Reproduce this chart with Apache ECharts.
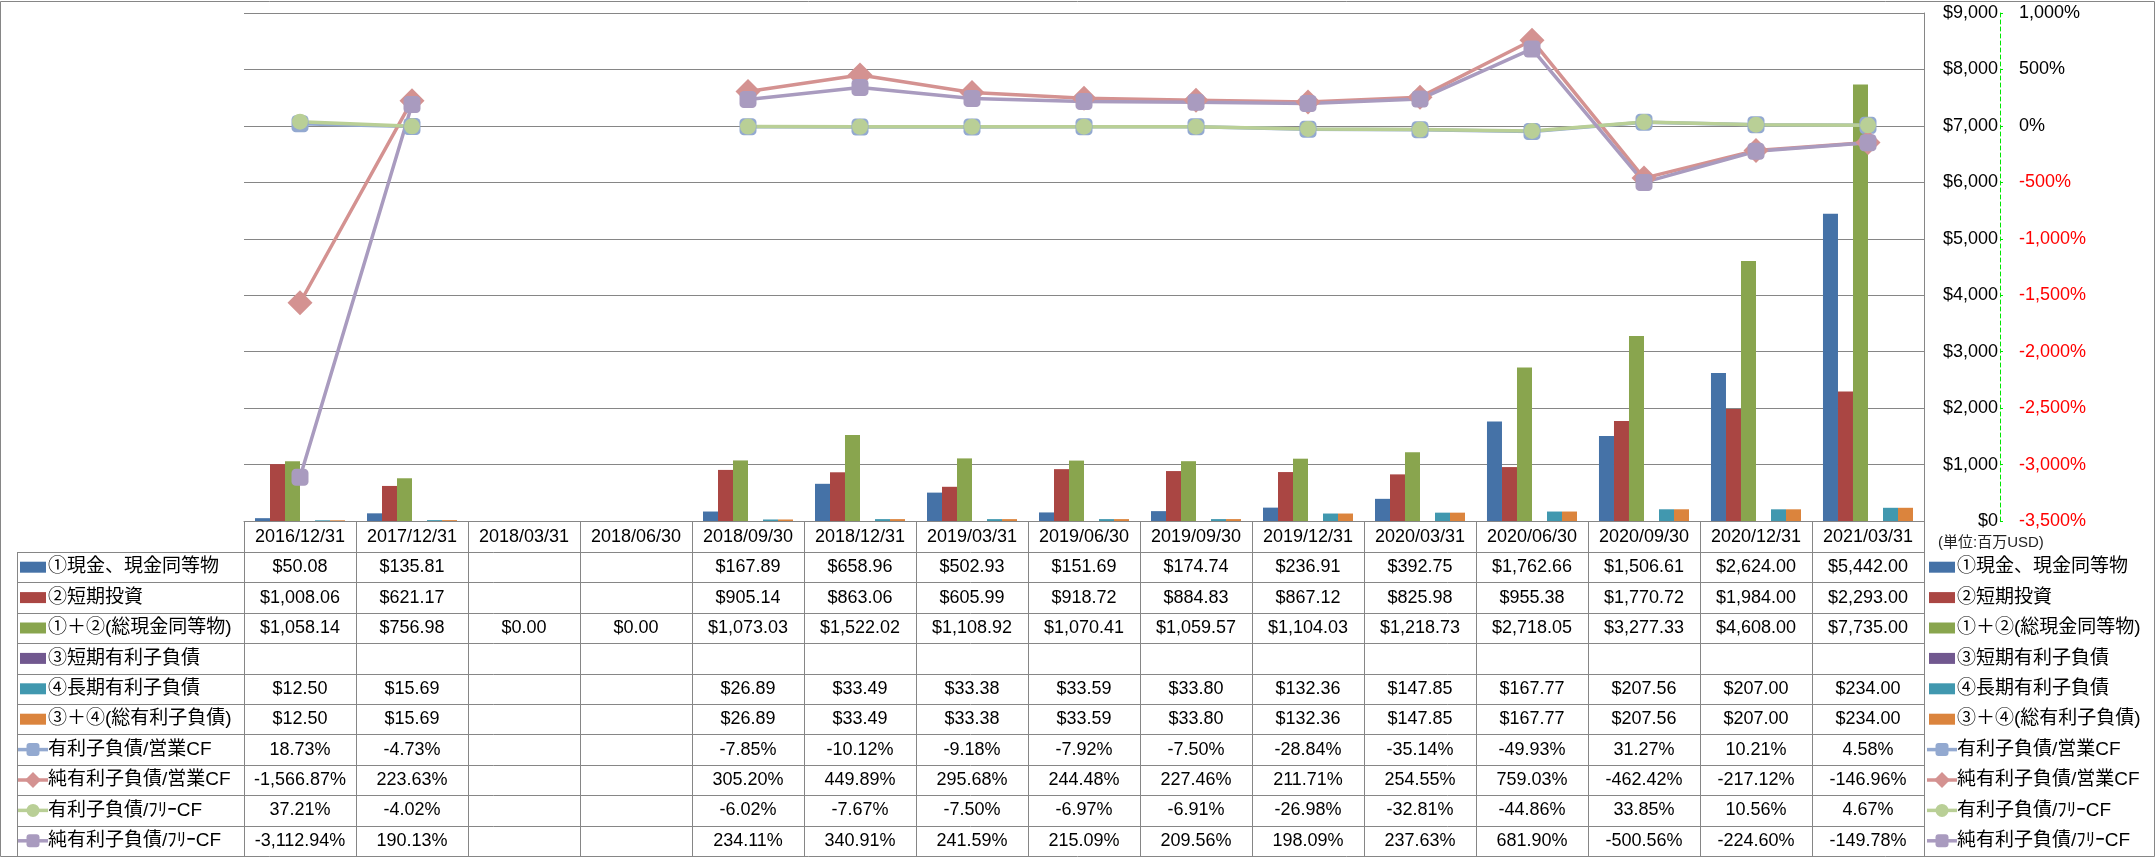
<!DOCTYPE html>
<html>
<head>
<meta charset="utf-8">
<script src="https://cdn.jsdelivr.net/npm/echarts@6/dist/echarts.min.js"></script>
<style>
html,body{margin:0;padding:0;background:#fff;}
#c{width:2156px;height:858px;}
</style>
</head>
<body>
<div id="c"></div>
<script>
// ---------------- DATA ----------------
const categories = ['2016/12/31','2017/12/31','2018/03/31','2018/06/30','2018/09/30','2018/12/31','2019/03/31','2019/06/30','2019/09/30','2019/12/31','2020/03/31','2020/06/30','2020/09/30','2020/12/31','2021/03/31'];

const cashValues      = [50.08, 135.81, null, null, 167.89, 658.96, 502.93, 151.69, 174.74, 236.91, 392.75, 1762.66, 1506.61, 2624.00, 5442.00];
const shortInvValues  = [1008.06, 621.17, null, null, 905.14, 863.06, 605.99, 918.72, 884.83, 867.12, 825.98, 955.38, 1770.72, 1984.00, 2293.00];
const totalCashValues = [1058.14, 756.98, 0, 0, 1073.03, 1522.02, 1108.92, 1070.41, 1059.57, 1104.03, 1218.73, 2718.05, 3277.33, 4608.00, 7735.00];
const shortDebtValues = [null, null, null, null, null, null, null, null, null, null, null, null, null, null, null];
const longDebtValues  = [12.50, 15.69, null, null, 26.89, 33.49, 33.38, 33.59, 33.80, 132.36, 147.85, 167.77, 207.56, 207.00, 234.00];
const totalDebtValues = [12.50, 15.69, null, null, 26.89, 33.49, 33.38, 33.59, 33.80, 132.36, 147.85, 167.77, 207.56, 207.00, 234.00];

const debtOpCfValues    = [18.73, -4.73, null, null, -7.85, -10.12, -9.18, -7.92, -7.50, -28.84, -35.14, -49.93, 31.27, 10.21, 4.58];
const netDebtOpCfValues = [-1566.87, 223.63, null, null, 305.20, 449.89, 295.68, 244.48, 227.46, 211.71, 254.55, 759.03, -462.42, -217.12, -146.96];
const debtFcfValues     = [37.21, -4.02, null, null, -6.02, -7.67, -7.50, -6.97, -6.91, -26.98, -32.81, -44.86, 33.85, 10.56, 4.67];
const netDebtFcfValues  = [-3112.94, 190.13, null, null, 234.11, 340.91, 241.59, 215.09, 209.56, 198.09, 237.63, 681.90, -500.56, -224.60, -149.78];

const seriesNames = ['①現金、現金同等物','②短期投資','①＋②(総現金同等物)','③短期有利子負債','④長期有利子負債','③＋④(総有利子負債)','有利子負債/営業CF','純有利子負債/営業CF','有利子負債/ﾌﾘｰCF','純有利子負債/ﾌﾘｰCF'];
const unitLabel = '(単位:百万USD)';

// ---------------- STYLE ----------------
const barColors  = ['#4572A7','#AA4643','#89A54E','#71588F','#4198AF','#DB843D'];
const lineColors = ['#93A9D0','#D49291','#B9CF96','#A99BBF'];
const lineSymbols = ['roundRect','diamond','circle','roundRect'];
const lineSymbolSizes = [17, 25, 16, 17];
const FONT = '"Liberation Sans","Noto Sans CJK JP",sans-serif';
const GRID = '#868686';

const barData = [cashValues, shortInvValues, totalCashValues, shortDebtValues, longDebtValues, totalDebtValues];
const lineData = [debtOpCfValues, netDebtOpCfValues, debtFcfValues, netDebtFcfValues];

const fmtMoney = v => v == null ? '' : '$' + v.toLocaleString('en-US', {minimumFractionDigits: 2, maximumFractionDigits: 2});
const fmtPct = v => v == null ? '' : v.toLocaleString('en-US', {minimumFractionDigits: 2, maximumFractionDigits: 2}) + '%';

const series = [];
barData.forEach((d, i) => {
  series.push({
    name: seriesNames[i], type: 'bar', yAxisIndex: 0, data: d,
    itemStyle: {color: barColors[i]},
    barGap: '0%', barCategoryGap: '19.6%', silent: true
  });
});
lineData.forEach((d, i) => {
  series.push({
    name: seriesNames[6 + i], type: 'line', yAxisIndex: 1, data: d,
    symbol: lineSymbols[i], symbolSize: lineSymbolSizes[i], showAllSymbol: true,
    lineStyle: {color: lineColors[i], width: 3.5},
    itemStyle: {color: lineColors[i], borderWidth: 0},
    connectNulls: false, silent: true, z: 3
  });
});

const AXIS_Y = 521;
const chart = echarts.init(document.getElementById('c'), null, {renderer: 'canvas', width: 2156, height: 858});

const option = {
  animation: false,
  backgroundColor: '#fff',
  grid: {left: 244, right: 2156 - 1924, top: 13, bottom: 858 - AXIS_Y, containLabel: false},
  xAxis: {
    type: 'category', data: categories,
    axisLine: {show: true, lineStyle: {color: GRID, width: 1}},
    axisTick: {show: false},
    axisLabel: {show: true, interval: 0, margin: 16, verticalAlign: 'middle', color: '#000', fontSize: 18, fontFamily: FONT}
  },
  yAxis: [
    {
      type: 'value', position: 'right', min: 0, max: 9000, interval: 1000,
      axisLine: {show: true, lineStyle: {color: GRID, width: 1}},
      axisTick: {show: false},
      splitLine: {show: true, lineStyle: {color: GRID, width: 1}},
      axisLabel: {
        margin: 74, align: 'right', color: '#000', fontSize: 18, fontFamily: FONT,
        formatter: v => '$' + v.toLocaleString('en-US')
      }
    },
    {
      type: 'value', position: 'right', offset: 76, min: -3500, max: 1000, interval: 500,
      axisLine: {show: true, lineStyle: {color: '#00E600', width: 1, type: [4, 3]}},
      axisTick: {show: true, length: 3, inside: false, lineStyle: {color: '#00E600'}},
      splitLine: {show: false},
      axisLabel: {
        margin: 19, align: 'left', fontSize: 18, fontFamily: FONT,
        color: v => Number(v) < 0 ? '#FF0000' : '#000000',
        formatter: v => v.toLocaleString('en-US') + '%'
      }
    }
  ],
  series: series
};
chart.setOption(option);

// ---------------- DATA TABLE + LEGEND (graphic) ----------------
const xs = categories.map((_, i) => chart.convertToPixel({xAxisIndex: 0}, i));
const colW = xs[1] - xs[0];
const tLeft = xs[0] - colW / 2;
const tRight = xs[xs.length - 1] + colW / 2;
const labelLeft = 17;
const headerBot = 552;
const rowH = 30.4;
const tableBot = headerBot + rowH * 10;
const px = v => Math.round(v) + 0.5;

const g = [];
function hline(x1, x2, y) { g.push({type: 'line', silent: true, shape: {x1: x1, y1: px(y), x2: x2, y2: px(y)}, style: {stroke: GRID, lineWidth: 1}}); }
function vline(x, y1, y2) { g.push({type: 'line', silent: true, shape: {x1: px(x), y1: y1, x2: px(x), y2: y2}, style: {stroke: GRID, lineWidth: 1}}); }
function text(t, x, y, align, size, color) {
  g.push({type: 'text', silent: true, style: {text: t, x: x, y: y, align: align, verticalAlign: 'middle', fontSize: size, fontFamily: FONT, fill: color || '#000'}});
}

// outer border
g.push({type: 'rect', silent: true, shape: {x: 0.5, y: 1.5, width: 2154, height: 855}, style: {fill: null, stroke: GRID, lineWidth: 1}});

// table lines
hline(labelLeft, tRight, headerBot);
for (let r = 1; r < 10; r++) hline(labelLeft, tRight, headerBot + rowH * r);
vline(labelLeft, headerBot, tableBot);
for (let c = 0; c <= categories.length; c++) vline(tLeft + colW * c, AXIS_Y, tableBot);

function legendKey(idx, x, cy) {
  if (idx < 6) {
    g.push({type: 'rect', silent: true, shape: {x: x, y: cy - 5.5, width: 26, height: 11}, style: {fill: barColors[idx]}});
  } else {
    const li = idx - 6, col = lineColors[li], mx = x + 13;
    g.push({type: 'line', silent: true, shape: {x1: x - 2, y1: cy, x2: x + 28, y2: cy}, style: {stroke: col, lineWidth: 3.5}});
    if (lineSymbols[li] === 'diamond') {
      g.push({type: 'polygon', silent: true, shape: {points: [[mx, cy - 8], [mx + 8, cy], [mx, cy + 8], [mx - 8, cy]]}, style: {fill: col}});
    } else if (lineSymbols[li] === 'circle') {
      g.push({type: 'circle', silent: true, shape: {cx: mx, cy: cy, r: 6.5}, style: {fill: col}});
    } else {
      g.push({type: 'rect', silent: true, shape: {x: mx - 6.5, y: cy - 6.5, width: 13, height: 13, r: 3}, style: {fill: col}});
    }
  }
}

const allRows = barData.concat(lineData);
allRows.forEach((vals, r) => {
  const cy = headerBot + rowH * r + rowH / 2;
  legendKey(r, 20, cy);
  text(seriesNames[r], 48, cy, 'left', 19);
  vals.forEach((v, c) => {
    const t = r < 6 ? fmtMoney(v) : fmtPct(v);
    if (t) text(t, xs[c], cy, 'center', 18);
  });
  // right legend
  legendKey(r, 1929, cy);
  text(seriesNames[r], 1957, cy, 'left', 19);
});

text(unitLabel, 1938, 543, 'left', 15, '#222');

chart.setOption({graphic: g});
</script>
</body>
</html>
